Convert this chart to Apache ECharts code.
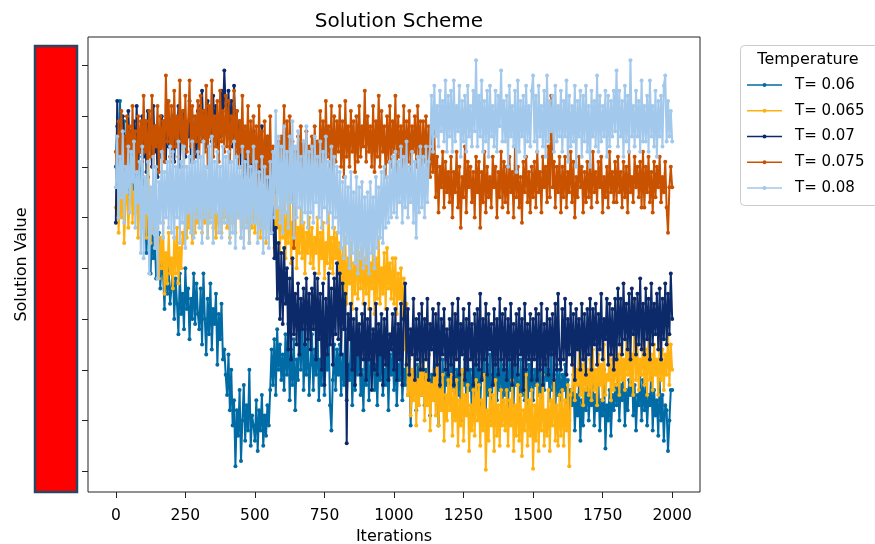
<!DOCTYPE html>
<html>
<head>
<meta charset="utf-8">
<script src="https://cdn.jsdelivr.net/npm/echarts@6/dist/echarts.min.js"></script>
<style>
  html, body { margin: 0; padding: 0; background: #fff; }
  #chart { width: 875px; height: 544px; }
</style>
</head>
<body>
<div id="chart"></div>
<script>
// ---- data (one value every 5 iterations) ----
const STEP = 5;
const xTickLabels = [0, 250, 500, 750, 1000, 1250, 1500, 1750, 2000];
const yTicks = [0, 1, 2, 3, 4, 5, 6, 7, 8];
const seriesNames = ['T= 0.06', 'T= 0.065', 'T= 0.07', 'T= 0.075', 'T= 0.08'];

const T006 = [
6.0, 6.8, 5.6, 7.3, 6.2, 5.5, 6.9, 5.9, 6.5, 5.3, 6.3, 5.8, 6.7, 5.1, 6.1, 5.7, 6.4, 5.0, 5.9, 6.2,
4.9, 5.3, 4.3, 5.0, 4.5, 3.9, 4.8, 4.2, 4.6, 3.8, 4.1, 4.7, 3.6, 4.3, 3.9, 3.2, 4.2, 3.5, 4.0, 3.3,
3.6, 4.1, 3.0, 3.8, 3.3, 2.7, 3.9, 3.1, 3.5, 2.8, 4.0, 3.2, 3.6, 2.6, 3.4, 3.0, 3.9, 2.9, 3.7, 3.1,
2.8, 3.6, 2.5, 3.9, 3.0, 2.3, 3.4, 2.7, 3.7, 2.4, 3.2, 2.9, 3.5, 2.1, 3.1, 2.6, 3.3, 2.2, 2.4, 1.9,
1.5, 2.3, 1.2, 2.0, 0.9, 1.4, 0.1, 1.2, 0.7, 1.6, 0.2, 1.0, 1.7, 0.6, 1.3, 0.8, 2.0, 0.5, 1.1, 0.9,
0.6, 1.4, 0.4, 1.2, 0.8, 1.5, 0.5, 1.1, 0.7, 1.3, 0.9, 1.6, 2.4, 1.7, 2.6, 1.5, 2.8, 2.0, 2.5, 1.8,
2.3, 1.6, 2.7, 1.9, 2.9, 1.4, 2.4, 1.7, 2.6, 1.2, 2.2, 1.8, 3.0, 2.0, 3.2, 1.6, 2.5, 1.9, 2.8, 1.5,
2.1, 2.7, 1.6, 2.4, 1.9, 2.9, 1.4, 2.2, 1.7, 2.6, 1.5, 2.3, 2.0, 2.8, 1.3, 0.8, 1.8, 2.5, 1.6, 2.4,
1.9, 2.5, 1.5, 2.3, 1.7, 2.8, 1.4, 2.1, 1.8, 2.6, 1.3, 2.2, 1.6, 2.4, 1.9, 2.7, 1.5, 2.0, 1.2, 2.3,
1.7, 2.5, 1.4, 2.2, 1.9, 2.7, 1.6, 2.1, 1.3, 2.4, 1.8, 2.6, 1.5, 2.0, 1.7, 2.5, 1.2, 2.3, 1.9, 2.4,
1.6, 2.3, 1.3, 2.1, 1.8, 2.5, 1.4, 2.0, 1.7, 2.4, 1.5, 2.2, 0.9, 1.9, 1.6, 2.3, 1.2, 2.1, 1.8, 2.4,
1.5, 2.2, 1.3, 2.0, 1.7, 2.3, 1.1, 1.9, 1.6, 2.4, 1.4, 2.1, 0.9, 1.8, 1.5, 2.2, 1.2, 2.0, 1.7, 2.3,
1.4, 2.1, 1.6, 2.3, 1.2, 2.0, 1.5, 2.4, 1.0, 1.9, 1.7, 2.2, 1.3, 2.5, 1.6, 2.0, 1.1, 2.3, 1.4, 2.1,
1.6, 2.2, 1.3, 2.0, 1.8, 2.4, 1.2, 2.1, 1.5, 2.3, 1.0, 1.9, 1.7, 2.2, 1.4, 2.0, 1.6, 2.4, 1.3, 2.1,
1.5, 2.0, 1.2, 2.3, 1.6, 2.1, 1.3, 2.4, 1.7, 1.9, 1.1, 2.2, 1.5, 2.0, 1.4, 2.3, 1.0, 2.1, 1.6, 2.2,
1.4, 2.0, 1.7, 2.3, 1.5, 2.1, 1.3, 1.9, 1.6, 2.2, 1.8, 2.0, 1.4, 2.3, 1.6, 1.9, 1.2, 2.1, 1.5, 2.0,
1.4, 1.9, 1.6, 2.1, 1.2, 1.8, 1.0, 1.6, 1.3, 1.9, 0.8, 1.5, 1.1, 1.7, 0.6, 1.4, 0.9, 1.6, 1.2, 1.8,
1.0, 1.6, 1.3, 1.8, 0.9, 1.5, 1.2, 1.7, 0.8, 1.4, 1.1, 2.0, 0.45, 1.3, 1.0, 1.6, 0.7, 1.5, 1.2, 1.7,
1.3, 1.9, 1.0, 1.7, 1.4, 2.1, 0.9, 1.6, 1.2, 1.8, 1.5, 2.2, 1.1, 1.7, 0.8, 1.5, 1.3, 1.9, 1.0, 1.8,
1.2, 1.7, 0.9, 1.5, 1.3, 2.0, 0.8, 1.6, 1.1, 1.4, 0.7, 1.8, 1.0, 1.5, 0.6, 1.3, 1.2, 0.4, 1.0, 1.6,
1.6];

const T0065 = [
5.2, 5.8, 4.7, 5.5, 5.0, 5.9, 4.5, 5.3, 5.6, 4.8, 5.4, 6.0, 4.9, 5.5, 5.1, 5.7, 4.6, 5.4, 5.0, 5.6,
4.8, 5.4, 4.6, 6.8, 5.0, 4.5, 5.3, 4.7, 5.1, 4.4, 4.8, 3.8, 4.6, 4.0, 4.9, 3.5, 4.3, 3.7, 4.7, 3.9,
4.2, 3.6, 4.6, 3.9, 4.8, 3.7, 4.4, 4.0, 4.7, 4.5, 5.2, 4.6, 5.4, 4.8, 5.1, 4.5, 5.5, 4.7, 5.3, 4.9,
5.0, 5.5, 4.7, 5.3, 4.9, 5.6, 4.6, 5.2, 5.0, 5.7, 4.8, 5.4, 4.6, 5.1, 4.9, 5.5, 4.7, 5.3, 5.0, 5.6,
4.8, 5.4, 4.6, 5.7, 4.9, 5.2, 4.7, 5.5, 5.0, 5.8, 4.6, 5.3, 4.8, 5.6, 4.9, 5.1, 4.5, 5.4, 4.8, 5.5,
4.7, 5.3, 4.9, 5.6, 4.6, 5.2, 4.8, 5.7, 4.5, 5.4, 5.0, 5.5, 4.7, 5.3, 4.4, 5.6, 4.8, 5.2, 4.3, 5.5,
4.6, 5.4, 4.2, 5.1, 4.5, 5.6, 4.1, 4.9, 4.4, 5.3, 4.0, 4.8, 4.3, 5.2, 4.2, 4.9, 3.9, 4.7, 4.3, 5.0,
4.1, 4.8, 4.0, 4.6, 4.3, 5.0, 3.9, 4.7, 4.2, 4.9, 3.8, 4.5, 4.1, 5.1, 4.0, 4.6, 3.9, 4.8, 4.2, 4.7,
3.9, 4.5, 3.6, 4.4, 3.4, 4.6, 3.3, 4.2, 3.7, 4.5, 3.2, 4.1, 3.5, 4.7, 3.4, 4.3, 3.6, 4.4, 3.3, 4.2,
3.5, 4.4, 3.2, 4.1, 3.6, 4.5, 3.1, 4.2, 3.4, 4.6, 3.3, 4.0, 3.5, 4.3, 3.2, 4.4, 3.6, 4.1, 3.4, 4.2,
3.3, 4.2, 3.1, 3.9, 3.4, 4.0, 3.0, 3.8, 2.4, 3.3, 1.5, 2.2, 1.1, 2.0, 1.4, 2.3, 0.9, 1.8, 1.3, 2.1,
1.5, 2.2, 1.0, 1.9, 1.3, 2.3, 0.8, 1.7, 1.4, 2.0, 1.1, 2.2, 0.9, 1.6, 1.2, 1.9, 0.6, 1.5, 1.0, 1.8,
1.2, 1.9, 0.7, 1.6, 1.0, 1.8, 0.5, 1.4, 0.9, 2.0, 0.6, 1.5, 1.1, 1.7, 0.4, 1.3, 0.8, 1.6, 0.7, 1.8,
1.0, 1.7, 0.5, 1.4, 0.8, 1.9, 0.03, 1.2, 0.6, 1.6, 0.9, 1.5, 0.4, 1.8, 0.7, 1.3, 0.5, 1.6, 0.9, 1.4,
0.8, 1.6, 0.5, 1.4, 0.9, 1.8, 0.4, 1.3, 0.7, 1.7, 0.6, 1.5, 0.3, 1.2, 0.8, 1.9, 0.5, 1.4, 0.7, 1.6,
0.05, 1.3, 0.6, 1.7, 0.4, 1.5, 0.8, 1.9, 0.5, 1.2, 0.7, 1.6, 0.4, 1.4, 0.9, 1.8, 0.6, 1.3, 0.5, 1.5,
0.7, 1.6, 0.5, 1.4, 0.8, 1.7, 0.1, 1.5, 1.6, 2.2, 1.4, 2.0, 1.7, 2.4, 1.5, 2.1, 1.3, 2.3, 1.6, 2.0,
1.5, 2.2, 1.4, 2.4, 1.6, 2.0, 1.3, 2.3, 1.7, 2.1, 1.4, 2.5, 1.5, 1.9, 1.8, 2.3, 1.4, 2.2, 1.6, 2.4,
1.7, 2.3, 1.5, 2.5, 1.8, 2.2, 1.6, 2.6, 1.9, 2.4, 1.7, 2.3, 1.5, 3.4, 1.8, 2.5, 1.6, 2.2, 1.9, 2.6,
1.7, 2.4, 1.5, 2.7, 1.8, 2.3, 1.6, 2.5, 1.9, 2.2, 1.5, 2.6, 1.8, 2.4, 1.6, 2.3, 1.9, 2.7, 1.7, 2.5,
2.0];

const T007 = [
4.9, 7.3, 6.0, 6.8, 5.8, 7.0, 6.2, 6.6, 5.9, 7.1, 6.3, 6.7, 5.7, 6.9, 6.1, 7.2, 6.0, 6.5, 6.3, 7.0,
6.2, 6.9, 5.9, 7.1, 6.4, 6.7, 6.0, 7.2, 6.3, 6.8, 5.8, 6.6, 6.2, 7.0, 6.5, 6.9, 6.1, 7.3, 6.4, 6.8,
6.3, 7.0, 6.1, 6.8, 6.4, 7.2, 6.0, 6.9, 6.5, 7.1, 6.2, 6.7, 6.6, 7.3, 6.1, 7.0, 6.4, 6.8, 6.2, 7.1,
6.5, 7.2, 7.5, 6.6, 7.1, 6.4, 7.3, 6.8, 7.0, 6.5, 7.4, 6.7, 7.2, 6.4, 7.0, 6.6, 7.5, 6.9, 7.9, 7.2,
6.8, 7.5, 6.6, 7.3, 6.4, 7.6, 6.7, 7.1, 6.3, 6.9, 6.0, 6.7, 5.8, 6.5, 5.6, 6.6, 5.9, 6.4, 5.5, 6.7,
5.8, 6.5, 5.5, 6.3, 5.3, 6.8, 5.7, 6.4, 5.6, 6.6, 5.4, 6.2, 4.7, 5.2, 4.2, 4.8, 3.4, 4.5, 3.0, 4.3,
2.9, 4.4, 3.3, 4.0, 2.4, 3.8, 2.2, 4.2, 2.7, 3.5, 2.5, 3.7, 2.3, 3.4, 2.8, 3.6, 2.5, 3.8, 2.6, 3.5,
2.4, 3.6, 2.8, 3.9, 2.2, 3.8, 2.6, 3.5, 2.0, 3.7, 1.7, 3.4, 2.3, 3.9, 2.5, 3.6, 2.1, 3.8, 2.7, 4.1,
2.6, 3.9, 2.3, 3.7, 2.8, 3.5, 0.55, 3.1, 2.6, 3.3, 2.0, 3.0, 1.7, 3.2, 2.3, 2.9, 1.9, 3.1, 2.2, 3.3,
1.8, 3.0, 2.2, 3.2, 1.6, 2.8, 2.0, 3.3, 1.9, 2.9, 2.3, 3.1, 1.7, 3.0, 2.1, 3.2, 1.8, 2.7, 2.4, 3.1,
2.0, 3.2, 1.8, 2.9, 2.2, 3.3, 1.7, 3.0, 3.7, 2.1, 3.2, 1.9, 2.8, 2.3, 3.4, 1.8, 3.0, 2.2, 3.1, 2.0,
3.3, 2.0, 3.0, 2.2, 3.4, 1.8, 2.9, 2.4, 3.2, 1.9, 3.1, 2.1, 3.3, 1.7, 3.0, 2.3, 3.2, 2.0, 2.8, 1.9,
3.0, 2.1, 3.3, 1.7, 3.1, 2.2, 3.4, 1.9, 2.9, 2.3, 3.2, 1.8, 3.0, 2.0, 3.3, 2.2, 2.9, 1.7, 3.1, 2.1,
3.2, 2.0, 3.5, 1.8, 3.0, 2.2, 3.3, 1.9, 3.1, 2.4, 2.9, 1.7, 3.2, 2.1, 3.0, 1.9, 3.4, 2.2, 3.1, 2.0,
3.2, 1.8, 3.0, 2.2, 3.3, 1.7, 2.9, 2.1, 3.1, 1.9, 3.2, 2.3, 3.0, 1.6, 3.3, 2.0, 2.9, 2.2, 3.1, 1.8,
3.0, 2.2, 3.2, 1.8, 3.1, 2.0, 3.3, 1.7, 2.9, 2.1, 3.2, 1.9, 3.0, 2.3, 3.1, 1.8, 3.3, 2.0, 3.5, 2.2,
2.0, 3.2, 2.2, 3.4, 1.9, 3.0, 2.3, 3.3, 2.1, 3.1, 1.8, 3.2, 2.4, 3.0, 2.0, 3.3, 2.2, 3.1, 1.9, 3.2,
2.3, 3.4, 2.0, 3.2, 2.5, 3.3, 2.1, 3.1, 2.4, 3.5, 2.2, 3.0, 2.6, 3.4, 2.1, 3.3, 2.3, 3.2, 2.0, 3.4,
2.2, 3.6, 2.5, 3.4, 2.3, 3.7, 2.6, 3.3, 2.4, 3.5, 2.2, 3.6, 2.7, 3.4, 2.3, 3.5, 2.5, 3.8, 2.4, 3.3,
2.3, 3.6, 2.6, 3.4, 2.2, 3.7, 2.5, 3.3, 2.7, 3.5, 2.4, 3.6, 2.2, 3.4, 2.6, 3.7, 2.5, 3.5, 2.7, 3.9,
3.0];

const T0075 = [
6.3, 5.7, 6.9, 5.9, 7.1, 6.1, 6.6, 5.6, 7.0, 6.2, 6.8, 5.8, 7.2, 6.0, 6.7, 5.5, 7.0, 6.3, 6.9, 6.1,
7.4, 6.3, 6.9, 5.8, 7.1, 6.2, 7.4, 6.0, 6.8, 6.4, 7.2, 5.9, 7.0, 6.3, 6.9, 6.1, 7.8, 6.5, 7.3, 6.2,
7.2, 6.1, 7.5, 6.4, 7.0, 6.2, 7.7, 6.5, 7.1, 6.0, 7.4, 6.3, 6.9, 7.7, 6.4, 7.2, 6.1, 7.0, 6.5, 7.3,
6.2, 7.4, 6.5, 7.1, 6.3, 7.6, 6.0, 7.2, 6.6, 7.7, 6.2, 7.0, 6.4, 7.3, 6.1, 7.5, 6.5, 7.1, 6.3, 7.4,
6.4, 7.3, 6.1, 7.0, 6.5, 7.5, 6.2, 7.1, 6.0, 6.9, 6.3, 7.4, 5.9, 6.8, 6.2, 7.2, 5.8, 6.9, 6.1, 7.0,
5.9, 6.8, 5.6, 7.2, 6.0, 6.7, 5.7, 6.9, 5.5, 6.6, 5.8, 7.0, 5.6, 6.4, 5.5, 6.2, 5.7, 6.5, 5.9, 6.6,
6.1, 7.2, 5.8, 6.9, 5.6, 7.0, 6.0, 6.5, 4.4, 6.3, 5.7, 6.6, 5.9, 6.8, 5.6, 6.5, 5.8, 6.7, 5.7, 6.4,
5.9, 6.6, 5.8, 6.8, 6.0, 6.5, 5.7, 7.1, 6.1, 6.9, 5.9, 7.3, 6.2, 6.8, 6.0, 7.2, 5.8, 7.0, 6.1, 6.9,
6.3, 7.2, 6.0, 6.9, 5.8, 7.3, 6.2, 6.8, 6.0, 7.1, 6.3, 6.9, 5.9, 7.0, 6.1, 7.2, 6.2, 6.8, 6.4, 7.5,
6.1, 7.0, 6.3, 6.8, 6.0, 7.2, 5.9, 6.9, 6.2, 7.4, 6.0, 7.1, 6.3, 6.8, 5.8, 7.0, 6.1, 7.2, 6.0, 6.9,
6.3, 7.4, 5.9, 7.0, 6.2, 6.8, 6.0, 7.2, 5.8, 6.9, 6.1, 7.1, 5.9, 6.8, 6.3, 7.0, 6.0, 7.2, 6.2, 6.9,
5.9, 6.9, 6.1, 7.0, 6.0, 6.8, 5.8, 6.6, 5.9, 6.7, 5.4, 6.2, 5.1, 6.0, 5.6, 6.3, 5.2, 6.1, 5.5, 5.9,
5.3, 6.2, 5.0, 5.9, 5.5, 6.3, 5.2, 6.0, 4.8, 5.8, 5.4, 6.4, 5.1, 6.1, 5.6, 6.0, 5.3, 5.9, 5.0, 6.2,
5.5, 6.1, 4.8, 5.9, 5.3, 6.3, 5.1, 6.0, 5.4, 5.8, 5.2, 6.2, 5.6, 6.0, 5.0, 5.9, 5.4, 6.3, 5.2, 6.1,
5.3, 6.0, 5.1, 6.2, 5.5, 5.9, 5.0, 6.4, 5.4, 6.0, 5.2, 5.8, 4.9, 6.1, 5.5, 6.2, 5.3, 5.9, 5.1, 6.0,
5.4, 6.1, 5.2, 6.3, 5.5, 5.9, 5.1, 6.2, 5.6, 6.0, 5.3, 6.4, 5.4, 7.4, 5.6, 6.1, 5.2, 6.0, 5.5, 6.2,
5.1, 6.0, 5.4, 6.2, 5.2, 5.9, 5.5, 6.3, 5.3, 6.1, 5.0, 5.8, 5.4, 6.2, 5.6, 6.0, 5.1, 5.9, 5.3, 6.1,
5.4, 6.0, 5.2, 6.3, 5.5, 5.9, 5.3, 6.1, 5.6, 6.2, 5.1, 5.8, 5.4, 6.0, 5.2, 6.3, 5.5, 5.9, 5.3, 6.1,
5.3, 6.2, 5.5, 5.9, 5.2, 6.1, 5.4, 6.0, 5.1, 6.3, 5.5, 5.8, 5.3, 6.2, 5.6, 6.0, 5.4, 6.1, 5.2, 6.3,
5.2, 6.0, 5.5, 6.2, 5.3, 5.9, 5.1, 6.1, 5.4, 6.0, 5.6, 6.2, 5.3, 5.8, 5.5, 6.1, 5.2, 4.7, 5.6, 6.0,
5.6];

const T008 = [
5.6, 6.6, 5.0, 6.2, 5.4, 6.7, 4.9, 6.0, 5.5, 6.4, 5.1, 6.3, 5.7, 6.5, 4.8, 5.9, 5.3, 6.1, 4.3, 6.4,
4.2, 5.8, 5.1, 6.1, 3.9, 5.6, 4.7, 6.2, 4.4, 6.0, 3.8, 5.7, 4.9, 6.3, 4.6, 5.9, 5.0, 6.1, 4.8, 6.4,
4.7, 6.3, 4.6, 6.0, 5.0, 6.5, 4.5, 6.1, 4.9, 6.4, 4.4, 6.0, 5.1, 6.2, 4.7, 6.5, 4.6, 6.1, 5.0, 6.3,
4.8, 6.2, 4.5, 6.5, 5.0, 6.0, 4.6, 6.4, 4.9, 6.6, 4.5, 6.1, 5.1, 6.3, 4.7, 6.0, 4.6, 6.4, 4.9, 6.2,
4.9, 6.3, 4.5, 6.1, 4.7, 6.5, 4.4, 6.2, 5.0, 6.0, 4.6, 6.4, 4.4, 6.1, 4.8, 6.3, 4.5, 6.0, 4.9, 6.4,
4.9, 6.1, 4.5, 5.9, 4.8, 6.2, 4.3, 6.0, 4.6, 5.8, 4.4, 6.1, 4.7, 6.3, 5.0, 7.1, 5.2, 6.6, 4.9, 6.4,
4.7, 6.8, 5.1, 6.3, 4.8, 6.6, 5.3, 6.9, 4.6, 6.4, 5.0, 6.7, 5.2, 6.2, 4.9, 6.5, 5.1, 6.8, 4.8, 6.3,
5.1, 6.4, 4.9, 6.6, 5.3, 6.2, 5.0, 6.5, 4.8, 6.3, 5.2, 6.6, 4.9, 6.1, 5.1, 6.4, 4.8, 6.2, 5.0, 6.0,
4.7, 5.9, 4.4, 5.7, 4.2, 5.8, 4.5, 5.6, 4.0, 5.9, 4.3, 5.5, 4.1, 5.8, 3.9, 5.6, 4.2, 5.7, 4.0, 5.4,
4.1, 5.5, 3.9, 5.7, 4.3, 5.4, 4.0, 5.8, 4.4, 5.6, 4.6, 5.9, 4.5, 6.0, 4.8, 5.8, 4.9, 6.1, 5.0, 6.2,
5.1, 6.3, 5.0, 6.1, 5.3, 6.4, 4.9, 6.2, 5.2, 6.5, 5.0, 6.0, 5.3, 6.3, 4.9, 6.1, 4.6, 6.2, 5.1, 6.4,
5.2, 6.2, 5.0, 6.4, 5.3, 6.1, 6.4, 7.4, 6.3, 7.6, 6.6, 7.2, 6.4, 7.5, 6.7, 7.3, 6.5, 7.7, 6.3, 7.4,
6.6, 7.5, 6.3, 7.7, 6.5, 7.2, 6.7, 7.6, 6.2, 7.3, 6.5, 7.4, 6.3, 7.6, 6.6, 7.2, 6.4, 7.5, 6.7, 8.1,
6.4, 7.4, 6.6, 7.7, 6.3, 7.3, 6.5, 7.5, 6.2, 7.6, 6.6, 7.2, 6.4, 7.5, 6.3, 7.4, 6.8, 7.9, 6.5, 7.3,
6.5, 7.4, 6.0, 7.6, 6.6, 7.2, 6.4, 7.5, 5.9, 7.7, 6.3, 7.3, 6.6, 7.4, 6.2, 7.6, 6.5, 7.2, 6.4, 7.5,
7.8, 6.5, 7.4, 6.3, 7.6, 6.6, 7.2, 6.4, 7.5, 6.2, 7.8, 6.5, 7.3, 6.7, 7.4, 6.3, 7.6, 6.5, 7.2, 6.6,
7.5, 6.3, 7.3, 6.6, 7.7, 6.1, 7.4, 6.4, 7.2, 6.5, 7.6, 6.0, 7.3, 6.6, 7.5, 6.2, 7.4, 6.5, 7.6, 6.3,
7.2, 6.0, 7.5, 6.6, 7.3, 6.4, 7.8, 6.3, 7.4, 6.5, 7.2, 6.6, 7.5, 6.2, 7.4, 6.4, 7.3, 6.6, 7.5, 6.7,
7.9, 6.4, 7.5, 6.6, 7.3, 6.2, 7.6, 6.5, 7.4, 6.3, 8.1, 6.6, 7.2, 6.4, 7.5, 6.6, 7.3, 6.3, 7.7, 6.5,
7.2, 6.5, 7.4, 6.3, 7.7, 6.6, 7.2, 6.4, 7.5, 6.2, 7.3, 6.6, 7.4, 6.4, 7.6, 7.8, 6.5, 7.3, 6.6, 7.1,
6.5];

const seriesValues = [T006, T0065, T007, T0075, T008];
const colors = ['#006BA4', '#FFB10F', '#0C2A6A', '#C85200', '#A2C8EC'];

// ---- chart ----
const FONT = 'DejaVu Sans';
const chart = echarts.init(document.getElementById('chart'), null, { renderer: 'canvas' });

const series = seriesNames.map((name, k) => ({
  name: name,
  type: 'line',
  z: 2 + k,
  data: seriesValues[k].map((v, i) => [i * STEP, v]),
  symbol: 'circle',
  symbolSize: 4,
  showSymbol: true,
  showAllSymbol: true,
  lineStyle: { width: 2, color: colors[k] },
  itemStyle: { color: colors[k] },
  emphasis: { disabled: true },
  animation: false
}));

const legendIcon = 'path://M0,2.2 L35,2.2 L35,3.8 L0,3.8 Z M15.5,3 A2,2 0 1 1 19.5,3 A2,2 0 1 1 15.5,3 Z';

chart.setOption({
  animation: false,
  color: colors,
  title: {
    text: 'Solution Scheme',
    left: 394,
    top: 7,
    textAlign: 'center',
    textStyle: { fontFamily: FONT, fontSize: 20, fontWeight: 'normal', color: '#000' }
  },
  grid: {
    left: 88, right: 175, top: 37, bottom: 52,
    containLabel: false,
    outerBoundsMode: 'none',
    show: true, borderColor: '#222', borderWidth: 1, backgroundColor: 'transparent'
  },
  legend: {
    data: seriesNames,
    orient: 'vertical',
    left: 747,
    top: 77,
    padding: 0,
    itemWidth: 35,
    itemHeight: 4,
    itemGap: 9.75,
    icon: legendIcon,
    itemStyle: { borderWidth: 0 },
    textStyle: { fontFamily: FONT, fontSize: 15, color: '#000', lineHeight: 16, padding: [0, 0, 0, 8] },
    selectedMode: false
  },
  xAxis: {
    type: 'value',
    min: -100,
    max: 2100,
    name: 'Iterations',
    nameLocation: 'middle',
    nameGap: 37,
    nameTextStyle: { fontFamily: FONT, fontSize: 16, color: '#000' },
    axisLine: { show: false, onZero: false },
    axisTick: { show: true, inside: false, length: 6, lineStyle: { color: '#222' }, customValues: xTickLabels },
    axisLabel: { fontFamily: FONT, fontSize: 15.5, color: '#000', margin: 16, customValues: xTickLabels,
                 formatter: v => String(v) },
    splitLine: { show: false }
  },
  yAxis: {
    type: 'value',
    min: -0.41,
    max: 8.56,
    name: 'Solution Value',
    nameLocation: 'middle',
    nameGap: 58,
    nameTextStyle: { fontFamily: FONT, fontSize: 16, color: '#000' },
    axisLine: { show: false, onZero: false },
    axisTick: { show: true, inside: false, length: 6, lineStyle: { color: '#222' }, customValues: yTicks },
    axisLabel: { show: false },
    splitLine: { show: false }
  },
  graphic: [
    {
      type: 'rect',
      shape: { x: 35, y: 46, width: 42, height: 446 },
      style: { fill: '#ff0000', stroke: '#2c4560', lineWidth: 2.5 },
      silent: true
    },
    {
      type: 'rect',
      shape: { x: 740.5, y: 45.5, width: 140, height: 160, r: 4 },
      style: { fill: 'rgba(255,255,255,0.8)', stroke: '#cccccc', lineWidth: 1 },
      z: 1,
      silent: true
    },
    {
      type: 'text',
      style: { text: 'Temperature', x: 808, y: 60, align: 'center', verticalAlign: 'middle',
               fontFamily: FONT, fontSize: 16, fill: '#000' },
      z: 2,
      silent: true
    }
  ],
  series: series
});
</script>
</body>
</html>
